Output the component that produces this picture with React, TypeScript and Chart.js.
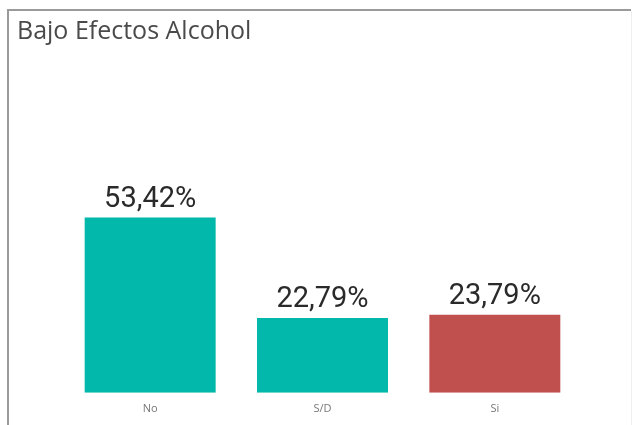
import React, { useEffect, useRef } from "react";
import { Chart, registerables } from "chart.js";

Chart.register(...registerables);

const categories = ["No", "S/D", "Si"];
const values = [53.42, 22.79, 23.79];
const valueLabels = ["53,42%", "22,79%", "23,79%"];
const barColors = ["#01B8AA", "#01B8AA", "#C0504D"];
const titleText = "Bajo Efectos Alcohol";

const framePlugin = {
  id: "frame",
  beforeDraw(chart: any) {
    const ctx = chart.ctx;
    ctx.save();
    ctx.fillStyle = "#ffffff";
    ctx.fillRect(0, 0, chart.width, chart.height);
    ctx.strokeStyle = "#9a9a9a";
    ctx.lineWidth = 2;
    ctx.beginPath();
    ctx.moveTo(8, chart.height);
    ctx.lineTo(8, 10);
    ctx.lineTo(631, 10);
    ctx.stroke();
    ctx.strokeStyle = "#eeeeee";
    ctx.lineWidth = 1;
    ctx.beginPath();
    ctx.moveTo(631.5, 11);
    ctx.lineTo(631.5, chart.height);
    ctx.stroke();
    ctx.fillStyle = "#4a4a4a";
    ctx.font = "25px 'Open Sans', sans-serif";
    ctx.textAlign = "left";
    ctx.textBaseline = "alphabetic";
    ctx.fillText(titleText, 17, 39);
    ctx.restore();
  },
  afterDatasetsDraw(chart: any) {
    const ctx = chart.ctx;
    const meta = chart.getDatasetMeta(0);
    ctx.save();
    ctx.fillStyle = "#2a2a2a";
    ctx.font = "29px Roboto, sans-serif";
    ctx.textAlign = "center";
    ctx.textBaseline = "alphabetic";
    meta.data.forEach((bar: any, i: number) => {
      ctx.fillText(valueLabels[i], bar.x, bar.y - 11);
    });
    ctx.restore();
  },
};

export default function App() {
  const ref = useRef<HTMLCanvasElement>(null);
  useEffect(() => {
    if (!ref.current) return;
    const chart = new Chart(ref.current, {
      type: "bar",
      data: {
        labels: categories,
        datasets: [
          {
            data: values,
            backgroundColor: barColors,
            borderWidth: 0,
            categoryPercentage: 1,
            barPercentage: 0.76,
          },
        ],
      },
      options: {
        responsive: false,
        animation: false,
        layout: { padding: { top: 54, left: 64, right: 55, bottom: 1 } },
        plugins: {
          legend: { display: false },
          title: { display: false },
          tooltip: { enabled: false },
        },
        scales: {
          x: {
            grid: { display: false, drawTicks: false },
            border: { display: false },
            ticks: {
              padding: 9,
              color: "#777777",
              font: { family: "'Open Sans', sans-serif", size: 11 },
            },
          },
          y: {
            display: false,
            min: 0,
            max: 103.3,
          },
        },
      },
      plugins: [framePlugin],
    });
    return () => chart.destroy();
  }, []);
  return (
    <div style={{ position: "absolute", left: 0, top: 0, width: 636, height: 425 }}>
      <canvas ref={ref} width={636} height={425} style={{ display: "block" }} />
    </div>
  );
}
